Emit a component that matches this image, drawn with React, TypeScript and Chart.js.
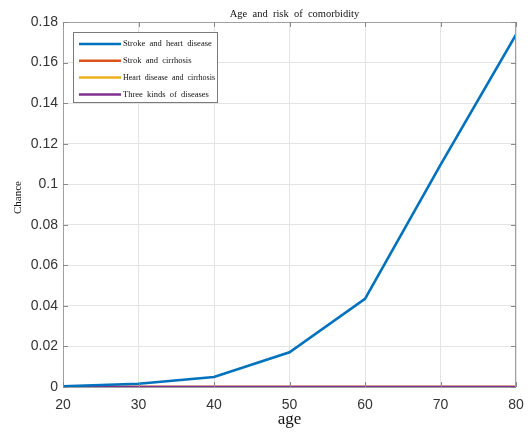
import React, { useEffect, useRef } from "react";
import { Chart, registerables } from "chart.js";

Chart.register(...registerables);

// Ages sampled along the x axis
const ages = [20, 30, 40, 50, 60, 70, 80];

// Probability of each comorbidity at the given ages
const strokeHeart = [0.0004, 0.0016, 0.0049, 0.0171, 0.0435, 0.1095, 0.1737];
const strokeCirrhosis = [0, 0, 0, 0, 0, 0, 0];
const heartCirrhosis = [0, 0, 0, 0, 0, 0, 0];
const threeDiseases = [0, 0, 0, 0, 0, 0, 0];

const seriesNames = [
  "Stroke  and  heart  disease",
  "Strok  and  cirrhosis",
  "Heart  disease  and  cirrhosis",
  "Three  kinds  of  diseases",
];
const seriesColors = ["#0072BD", "#D95319", "#EDB120", "#7E2F8E"];
// lower value is painted later (on top)
const seriesOrder = [0, 3, 2, 1];

const chartTitle = "Age  and  risk  of  comorbidity";
const xTitle = "age";
const yTitle = "Chance";

const SERIF = "'Liberation Serif', 'DejaVu Serif', serif";
const SANS = "'Liberation Sans', Arial, sans-serif";

// Draws the axes box, inward tick marks, titles and the boxed legend
const framePlugin = {
  id: "frame",
  afterDatasetsDraw(chart: any) {
    const { ctx, chartArea: a, scales } = chart;
    ctx.save();
    // box
    ctx.strokeStyle = "#a0a0a0";
    ctx.lineWidth = 1;
    ctx.strokeRect(a.left + 0.5, a.top + 0.5, a.right - a.left - 1, a.bottom - a.top);
    // inward ticks
    ctx.strokeStyle = "#8a8a8a";
    ctx.beginPath();
    for (const v of ages) {
      const x = Math.round(scales.x.getPixelForValue(v)) + 0.5;
      ctx.moveTo(x, a.top);
      ctx.lineTo(x, a.top + 5);
      ctx.moveTo(x, a.bottom);
      ctx.lineTo(x, a.bottom - 5);
    }
    for (let i = 0; i <= 9; i++) {
      const y = Math.round(scales.y.getPixelForValue(i * 0.02)) + 0.5;
      ctx.moveTo(a.left, y);
      ctx.lineTo(a.left + 5, y);
      ctx.moveTo(a.right, y);
      ctx.lineTo(a.right - 5, y);
    }
    ctx.stroke();

    // title
    ctx.fillStyle = "#111";
    ctx.font = `10.5px ${SERIF}`;
    ctx.textAlign = "center";
    ctx.textBaseline = "alphabetic";
    ctx.fillText(chartTitle, (a.left + a.right) / 2 + 5, a.top - 5);

    // y axis title
    ctx.save();
    ctx.translate(18, (a.top + a.bottom) / 2 - 7);
    ctx.rotate(-Math.PI / 2);
    ctx.font = `11px ${SERIF}`;
    ctx.textAlign = "center";
    ctx.textBaseline = "middle";
    ctx.fillText(yTitle, 0, 0);
    ctx.restore();

    // legend
    const lx = a.left + 10;
    const ly = a.top + 10;
    const lw = 144;
    const lh = 70;
    ctx.fillStyle = "#fff";
    ctx.fillRect(lx, ly, lw, lh);
    ctx.strokeStyle = "#7a7a7a";
    ctx.lineWidth = 1;
    ctx.strokeRect(lx + 0.5, ly + 0.5, lw, lh);
    ctx.font = `8.5px ${SERIF}`;
    ctx.textAlign = "left";
    ctx.textBaseline = "middle";
    seriesNames.forEach((name, i) => {
      const y = ly + 12 + i * 16.8;
      ctx.strokeStyle = seriesColors[i];
      ctx.lineWidth = 2.5;
      ctx.beginPath();
      ctx.moveTo(lx + 6, y);
      ctx.lineTo(lx + 48, y);
      ctx.stroke();
      ctx.fillStyle = "#111";
      ctx.fillText(name, lx + 50, y, lw - 52);
    });
    ctx.restore();
  },
};

export default function App() {
  const canvasRef = useRef<HTMLCanvasElement>(null);

  useEffect(() => {
    document.body.style.margin = "0";
    const canvas = canvasRef.current;
    if (!canvas) return;
    const makeSet = (i: number, data: number[]) => ({
      label: seriesNames[i],
      data: ages.map((x, k) => ({ x, y: data[k] })),
      borderColor: seriesColors[i],
      backgroundColor: seriesColors[i],
      order: seriesOrder[i],
      borderWidth: 2.6,
      pointRadius: 0,
      tension: 0,
      fill: false,
    });
    const chart = new Chart(canvas, {
      type: "line",
      data: {
        datasets: [
          makeSet(0, strokeHeart),
          makeSet(1, strokeCirrhosis),
          makeSet(2, heartCirrhosis),
          makeSet(3, threeDiseases),
        ],
      },
      options: {
        responsive: false,
        animation: false,
        layout: { padding: { top: 22, right: 16, left: 0, bottom: 0 } },
        plugins: {
          legend: { display: false },
          title: { display: false },
          tooltip: { enabled: false },
        },
        scales: {
          x: {
            type: "linear",
            min: 20,
            max: 80,
            ticks: {
              stepSize: 10,
              color: "#333",
              font: { family: SANS, size: 14 },
              padding: 10,
              maxRotation: 0,
            },
            grid: { color: "#e4e4e4", drawTicks: false },
            border: { display: false },
            title: {
              display: true,
              text: xTitle,
              color: "#111",
              font: { family: SERIF, size: 17 },
              padding: { top: 0, bottom: 2 },
            },
            afterFit: (s: any) => {
              s.height = 45;
              s.paddingLeft = 0;
              s.paddingRight = 0;
            },
          },
          y: {
            type: "linear",
            min: 0,
            max: 0.18,
            ticks: {
              stepSize: 0.02,
              color: "#333",
              font: { family: SANS, size: 14 },
              padding: 5,
              callback: (v: any) => String(parseFloat(Number(v).toFixed(2))),
            },
            grid: { color: "#e4e4e4", drawTicks: false },
            border: { display: false },
            afterFit: (s: any) => {
              s.width = 63;
              s.paddingTop = 0;
              s.paddingBottom = 0;
            },
          },
        },
      },
      plugins: [framePlugin],
    });
    return () => chart.destroy();
  }, []);

  return (
    <div style={{ width: 532, height: 432, background: "#fff" }}>
      <canvas ref={canvasRef} width={532} height={432} />
    </div>
  );
}
